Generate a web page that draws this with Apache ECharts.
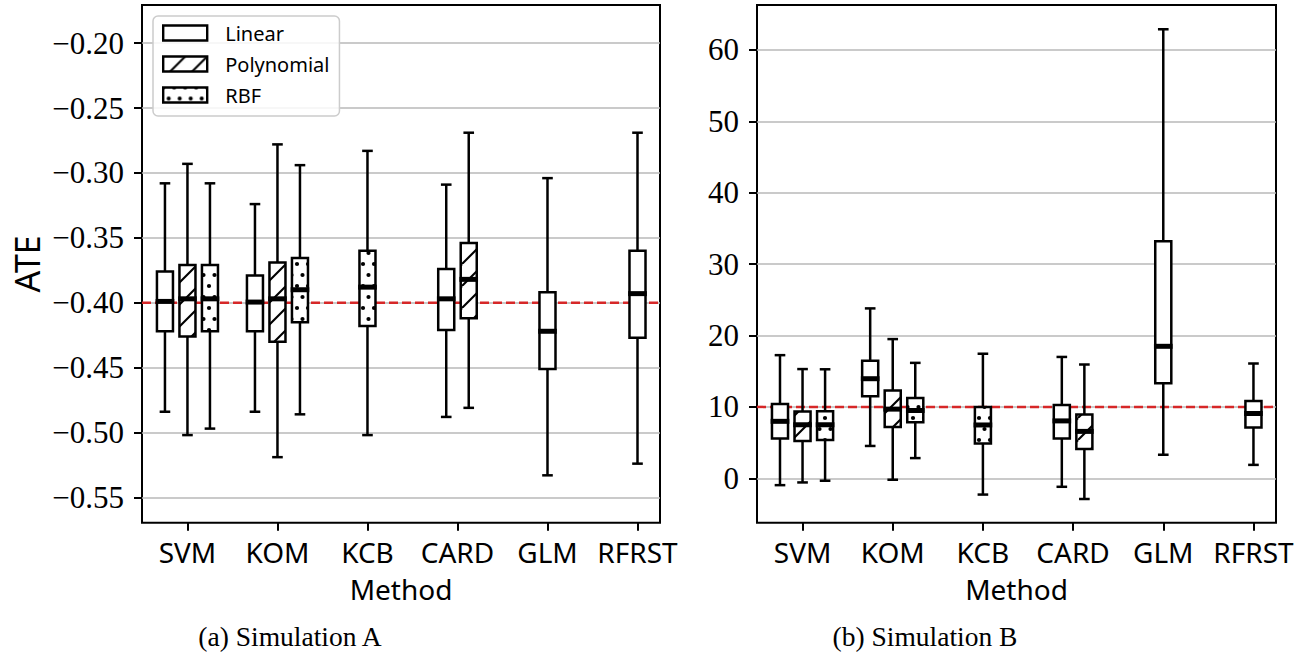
<!DOCTYPE html>
<html>
<head>
<meta charset="utf-8">
<script src="https://cdn.jsdelivr.net/npm/echarts@6/dist/echarts.min.js"></script>
<style>
html,body{margin:0;padding:0;background:#fff;}
#chart{width:1306px;height:662px;}
</style>
</head>
<body>
<div id="chart"></div>
<script>
// ---------------- data ----------------
const categories = ['SVM', 'KOM', 'KCB', 'CARD', 'GLM', 'RFRST'];
const kernels = ['Linear', 'Polynomial', 'RBF'];

// each entry: [lower whisker, Q1, median, Q3, upper whisker]; null = no box
const simA_linear = [
  [-0.484, -0.422, -0.399, -0.376, -0.308],
  [-0.484, -0.422, -0.3995, -0.379, -0.324],
  null,
  [-0.488, -0.421, -0.397, -0.374, -0.309],
  [-0.533, -0.451, -0.422, -0.392, -0.304],
  [-0.524, -0.427, -0.393, -0.360, -0.269]
];
const simA_poly = [
  [-0.502, -0.426, -0.397, -0.371, -0.293],
  [-0.519, -0.430, -0.397, -0.369, -0.278],
  null,
  [-0.481, -0.412, -0.382, -0.354, -0.269],
  null,
  null
];
const simA_rbf = [
  [-0.497, -0.422, -0.397, -0.371, -0.308],
  [-0.486, -0.415, -0.390, -0.3655, -0.294],
  [-0.502, -0.418, -0.388, -0.360, -0.283],
  null,
  null,
  null
];

const simB_linear = [
  [-0.96, 5.57, 7.98, 10.4, 17.25],
  [4.53, 11.5, 13.95, 16.45, 23.8],
  null,
  [-1.19, 5.57, 8.04, 10.26, 17.0],
  [3.3, 13.3, 18.49, 33.2, 62.9],
  [1.88, 7.13, 9.08, 10.83, 16.08]
];
const simB_poly = [
  [-0.58, 5.24, 7.5, 9.36, 15.3],
  [-0.2, 7.18, 9.69, 12.3, 19.5],
  null,
  [-2.9, 4.1, 6.57, 8.93, 15.94],
  null,
  null
];
const simB_rbf = [
  [-0.34, 5.38, 7.5, 9.4, 15.27],
  [2.83, 7.84, 9.5, 11.25, 16.17],
  [-2.28, 4.86, 7.47, 9.97, 17.45],
  null,
  null,
  null
];

const simA_yTicks = [-0.55, -0.50, -0.45, -0.40, -0.35, -0.30, -0.25, -0.20];
const simB_yTicks = [0, 10, 20, 30, 40, 50, 60];
const simA_truth = -0.40;
const simB_truth = 10;
const captions = ['(a) Simulation A', '(b) Simulation B'];

// ---------------- styling / layout ----------------
const SERIF = '"Liberation Serif", "DejaVu Serif", serif';
const SANS = '"Noto Sans", "Open Sans", sans-serif';
const BOX_W = 0.178;
const CAP_W = 0.118;
const GROUP_STEP = 0.25;
const X_MIN = -0.505, X_MAX = 5.25;
const LW = 2.5;

function makePattern(kind) {
  const c = document.createElement('canvas');
  let w, h;
  if (kind === 'slash') {
    w = 22; h = 22;
    c.width = w; c.height = h;
    const ctx = c.getContext('2d');
    ctx.fillStyle = '#fff'; ctx.fillRect(0, 0, w, h);
    ctx.strokeStyle = '#000'; ctx.lineWidth = 2.1;
    for (let k = -1; k <= 1; k++) {
      ctx.beginPath(); ctx.moveTo(k * w, h); ctx.lineTo(k * w + w, 0); ctx.stroke();
    }
  } else {
    w = 11; h = 22;
    c.width = w; c.height = h;
    const ctx = c.getContext('2d');
    ctx.fillStyle = '#fff'; ctx.fillRect(0, 0, w, h);
    ctx.fillStyle = '#000';
    const pts = [[0, 0], [w, 0], [0, h], [w, h], [w / 2, h / 2]];
    pts.forEach(p => { ctx.beginPath(); ctx.arc(p[0], p[1], 2.1, 0, Math.PI * 2); ctx.fill(); });
  }
  return { image: c, repeat: 'repeat', imageWidth: w, imageHeight: h };
}

const fills = {
  Linear: '#ffffff',
  Polynomial: makePattern('slash'),
  RBF: makePattern('dots')
};

function positioned(setArrays) {
  const out = { Linear: [], Polynomial: [], RBF: [] };
  categories.forEach((c, i) => {
    const present = kernels.filter(k => setArrays[k][i] != null);
    present.forEach((k, j) => {
      const off = (j - (present.length - 1) / 2) * GROUP_STEP;
      out[k].push([i + off].concat(setArrays[k][i]));
    });
  });
  return out;
}

function renderBox(fill) {
  return function (params, api) {
    const x = api.value(0);
    const lo = api.coord([x, api.value(1)]);
    const q1 = api.coord([x, api.value(2)]);
    const md = api.coord([x, api.value(3)]);
    const q3 = api.coord([x, api.value(4)]);
    const hi = api.coord([x, api.value(5)]);
    const hw = api.size([BOX_W, 0])[0] / 2;
    const cw = api.size([CAP_W, 0])[0] / 2;
    const cx = lo[0];
    const ls = { stroke: '#000', lineWidth: LW };
    return {
      type: 'group',
      children: [
        { type: 'line', shape: { x1: cx, y1: lo[1], x2: cx, y2: hi[1] }, style: ls },
        { type: 'line', shape: { x1: cx - cw, y1: lo[1], x2: cx + cw, y2: lo[1] }, style: ls },
        { type: 'line', shape: { x1: cx - cw, y1: hi[1], x2: cx + cw, y2: hi[1] }, style: ls },
        { type: 'rect', shape: { x: cx - hw, y: q3[1], width: 2 * hw, height: q1[1] - q3[1] },
          style: { fill: fill, stroke: '#000', lineWidth: LW } },
        { type: 'line', shape: { x1: cx - hw - 1.3, y1: md[1], x2: cx + hw + 1.3, y2: md[1] },
          style: { stroke: '#000', lineWidth: 5 } }
      ]
    };
  };
}

const dataA = positioned({ Linear: simA_linear, Polynomial: simA_poly, RBF: simA_rbf });
const dataB = positioned({ Linear: simB_linear, Polynomial: simB_poly, RBF: simB_rbf });

function xAxisFor(gi) {
  return {
    type: 'value', gridIndex: gi, min: X_MIN, max: X_MAX,
    name: 'Method', nameLocation: 'middle', nameGap: 52,
    nameTextStyle: { fontFamily: SANS, fontSize: 28, color: '#000' },
    axisLine: { show: false, onZero: false },
    axisTick: { show: true, customValues: categories.map((c, i) => i), length: 8, lineStyle: { color: '#000', width: 2 } },
    axisLabel: { show: true, customValues: categories.map((c, i) => i), formatter: v => categories[Math.round(v)],
      fontFamily: SANS, fontSize: 28, color: '#000', margin: 15 },
    splitLine: { show: false }
  };
}

function yAxisFor(gi, ticks, min, max, fmt, name) {
  return {
    type: 'value', gridIndex: gi, min: min, max: max,
    name: name || '', nameLocation: 'middle', nameGap: 98,
    nameTextStyle: { fontFamily: SANS, fontSize: 34, color: '#000' },
    axisLine: { show: false, onZero: false },
    axisTick: { show: true, customValues: ticks, length: 8, lineStyle: { color: '#000', width: 2 } },
    axisLabel: { show: true, customValues: ticks, formatter: fmt, fontFamily: SERIF, fontSize: 31, color: '#000', margin: 18 },
    splitLine: { show: true, lineStyle: { color: '#b8b8b8', width: 1.6 } }
  };
}

const fmtA = v => (v < 0 ? '\u2212' : '') + Math.abs(v).toFixed(2);
const fmtB = v => String(Math.round(v));

function seriesFor(gi, data, truth) {
  const s = [{
    type: 'line', xAxisIndex: gi, yAxisIndex: gi, z: 2, silent: true,
    showSymbol: false, symbol: 'none',
    data: [[X_MIN, truth], [X_MAX, truth]],
    lineStyle: { color: '#d62728', width: 2.5, type: [9, 4] }
  }];
  kernels.forEach(k => {
    s.push({
      type: 'custom', name: k, xAxisIndex: gi, yAxisIndex: gi, z: 3, silent: true,
      renderItem: renderBox(fills[k]),
      encode: { x: 0, y: [1, 2, 3, 4, 5] },
      itemStyle: { color: fills[k], borderColor: '#000', borderWidth: 2 },
      data: data[k]
    });
  });
  return s;
}

const chart = echarts.init(document.getElementById('chart'), null, { renderer: 'svg', width: 1306, height: 662 });

const option = {
  animation: false,
  backgroundColor: '#fff',
  grid: [
    { left: 142, top: 5, width: 518, height: 517.7, show: true, borderColor: '#000', borderWidth: 2, backgroundColor: 'transparent' },
    { left: 757, top: 5, width: 519, height: 517.7, show: true, borderColor: '#000', borderWidth: 2, backgroundColor: 'transparent' }
  ],
  xAxis: [xAxisFor(0), xAxisFor(1)],
  yAxis: [
    yAxisFor(0, simA_yTicks, -0.5695, -0.1706, fmtA, 'ATE'),
    yAxisFor(1, simB_yTicks, -6.22, 66.3, fmtB, '')
  ],
  legend: {
    show: true, orient: 'vertical', left: 153, top: 16,
    selectedMode: false,
    backgroundColor: 'rgba(255,255,255,0.85)', borderColor: '#cccccc', borderWidth: 1.5, borderRadius: 5,
    padding: [7, 10, 11, 9],
    itemWidth: 44, itemHeight: 15, itemGap: 11,
    textStyle: { fontFamily: SANS, fontSize: 20, color: '#000', lineHeight: 20, padding: [0, 0, 0, 13] },
    data: kernels.map(k => ({ name: k, icon: 'rect', itemStyle: { color: fills[k], borderColor: '#000', borderWidth: 2.4 } }))
  },
  graphic: [
    { type: 'text', x: 290, y: 636, style: { text: captions[0], font: '27.5px ' + SERIF, fill: '#000', align: 'center', verticalAlign: 'middle' } },
    { type: 'text', x: 925, y: 636, style: { text: captions[1], font: '27.5px ' + SERIF, fill: '#000', align: 'center', verticalAlign: 'middle' } }
  ],
  series: seriesFor(0, dataA, simA_truth).concat(seriesFor(1, dataB, simB_truth))
};

chart.setOption(option);
</script>
</body>
</html>
